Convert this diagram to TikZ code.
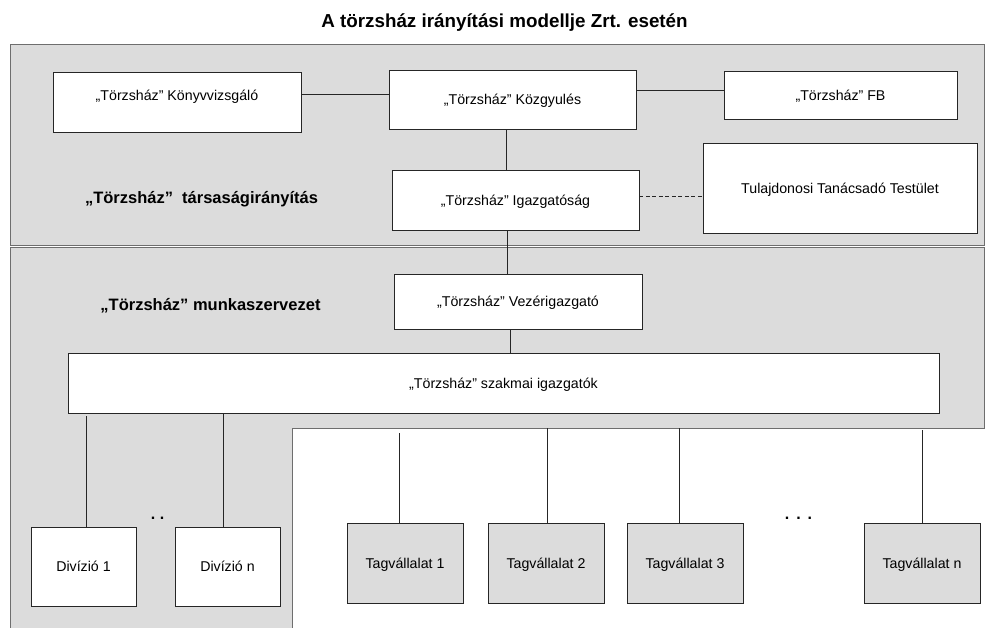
\documentclass[tikz,border=0pt]{standalone}
\usepackage{fontspec}
\setmainfont{Liberation Sans}
\definecolor{panelgray}{HTML}{DCDCDC}
\definecolor{edgegray}{HTML}{6E6E6E}
\definecolor{boxedge}{HTML}{262626}
\begin{document}
\begin{tikzpicture}[x=1pt,y=-1pt,
  box/.style={draw=boxedge,line width=0.9pt,fill=white,inner sep=0pt,
    text height=10pt,text depth=0pt,font=\fontsize{14.2}{16}\selectfont},
  graybox/.style={box,fill=panelgray},
  lbl/.style={inner sep=0pt,text height=10pt,text depth=0pt,font=\fontsize{14.2}{16}\selectfont},
  section/.style={inner sep=0pt,anchor=base,font=\fontsize{16.5}{18}\selectfont\bfseries},
  dots/.style={inner sep=0pt,anchor=base,font=\fontsize{16}{18}\selectfont\bfseries},
  link/.style={draw=boxedge,line width=0.9pt},
  panel/.style={draw=edgegray,line width=1pt,fill=panelgray}]
\useasboundingbox (0,0) rectangle (985,627);
\clip (0,0) rectangle (985,627);

% title
\node[inner sep=0pt,anchor=base,font=\fontsize{18.8}{20}\selectfont\bfseries]
  (title) at (504.5,27) {A törzsház irányítási modellje Zrt. esetén};

% corporate governance panel
\path[panel] (10.7,44) rectangle (984,245);
% working organisation panel (L-shaped)
\path[panel] (10.7,640) -- (10.7,247) -- (984,247) -- (984,428) -- (292,428) -- (292,640);
\coordinate (pbot) at (0,428);

\node[section] (govlbl) at (201.5,203) {„Törzsház”\ \ társaságirányítás};
\node[section] (orglbl) at (210.5,310) {„Törzsház” munkaszervezet};

% governance bodies
\node[box,minimum width=248pt,minimum height=60pt] (kv) at (177,102) {};
\node[lbl] (kvt) at ([yshift=7pt]kv.center) {„Törzsház” Könyvvizsgáló};
\node[box,minimum width=247pt,minimum height=59pt] (kgy) at (512.5,99.5) {„Törzsház” Közgyulés};
\node[box,minimum width=233pt,minimum height=48pt] (fb) at (840.5,95) {„Törzsház” FB};
\node[box,minimum width=247pt,minimum height=60pt] (igaz) at (515.5,200) {„Törzsház” Igazgatóság};
\node[box,minimum width=274pt,minimum height=90pt] (tul) at (840,188) {Tulajdonosi Tanácsadó Testület};

% management
\node[box,minimum width=248pt,minimum height=55pt] (vez) at (518,301.5) {„Törzsház” Vezérigazgató};
\node[box,minimum width=871pt,minimum height=60pt] (szak) at (503.5,383) {„Törzsház” szakmai igazgatók};

% divisions and member companies
\node[box,minimum width=105pt,minimum height=79pt] (d1) at (83.5,566.5) {Divízió 1};
\node[box,minimum width=105pt,minimum height=79pt] (dn) at (227.5,566.5) {Divízió n};
\node[graybox,minimum width=116pt,minimum height=80pt] (t1) at (405,563) {Tagvállalat 1};
\node[graybox,minimum width=116pt,minimum height=80pt] (t2) at (546,563) {Tagvállalat 2};
\node[graybox,minimum width=116pt,minimum height=80pt] (t3) at (685,563) {Tagvállalat 3};
\node[graybox,minimum width=116pt,minimum height=80pt] (tn) at (922,563) {Tagvállalat n};

\node[dots] (ddots) at (157.5,519) {.\hspace{4.5pt}.};
\node[dots] (tdots) at (798.5,519) {.\hspace{7pt}.\hspace{7pt}.};

% connectors
\draw[link] ([yshift=8pt]kv.east) -- ([yshift=8pt]kv.east -| kgy.west);
\draw[link] ([yshift=5pt]fb.west -| kgy.east) -- ([yshift=5pt]fb.west);
\draw[link] ([xshift=-6.5pt]kgy.south) -- ([xshift=-6.5pt]kgy.south |- igaz.north);
\draw[link,dashed,dash pattern=on 4pt off 2.5pt] ([yshift=4pt]igaz.east) -- ([yshift=4pt]igaz.east -| tul.west);
\draw[link] ([xshift=-8.5pt]igaz.south) -- ([xshift=-8.5pt]igaz.south |- vez.north);
\draw[link] ([xshift=-8pt]vez.south) -- ([xshift=-8pt]vez.south |- szak.north);
\draw[link] ([xshift=2.5pt]d1.north) -- ([xshift=2.5pt,yshift=-3pt]d1.north |- szak.south);
\draw[link] ([xshift=-4.5pt]dn.north) -- ([xshift=-4.5pt]dn.north |- szak.south);
\draw[link] ([xshift=-6pt]t1.north) -- ([xshift=-6pt,yshift=-5pt]t1.north |- pbot);
\draw[link] ([xshift=1pt]t2.north) -- ([xshift=1pt]t2.north |- pbot);
\draw[link] ([xshift=-6pt]t3.north) -- ([xshift=-6pt]t3.north |- pbot);
\draw[link] (tn.north) -- ([yshift=-2pt]tn.north |- pbot);
\end{tikzpicture}
\end{document}
